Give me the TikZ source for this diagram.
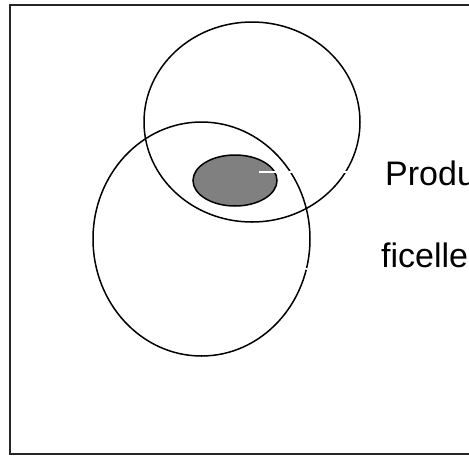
\documentclass[tikz,border=0pt]{standalone}
\usepackage{fontspec}
\setmainfont{Liberation Sans}
\begin{document}
\begin{tikzpicture}[x=1pt,y=-1pt,
  ring/.style={draw=black,line width=1.5pt},
  frame/.style={draw=black!85,line width=1.8pt},
  blob/.style={draw=black,line width=1.5pt,fill=black!50},
  leader/.style={draw=white,line width=1.6pt},
  txt/.style={anchor=base west,inner sep=0pt}]
\useasboundingbox (0,0) rectangle (469,456);
\clip (0,0) rectangle (469,456);
\draw[frame] (10,5) rectangle (490,454);
\draw[ring] (252,122) ellipse [x radius=108, y radius=100];
\draw[ring] (201.5,239) ellipse [x radius=108.5, y radius=117];
\draw[blob] (235,180.5) ellipse [x radius=42, y radius=25.5];
\node (core) at (235,180.5) {};
\node[txt] (produ) at (385,185) {\fontsize{34}{40}\selectfont Produit};
\node[txt] (ficelle) at (381,267) {\fontsize{34}{40}\selectfont ficelle};
\coordinate (p1) at (259,172);
\coordinate (p2) at (351,172);
\coordinate (f1) at (296,268);
\coordinate (f2) at (318,270);
\draw[leader] (p1) -- (p2);
\draw[leader] (f1) -- (f2);
\end{tikzpicture}
\end{document}
